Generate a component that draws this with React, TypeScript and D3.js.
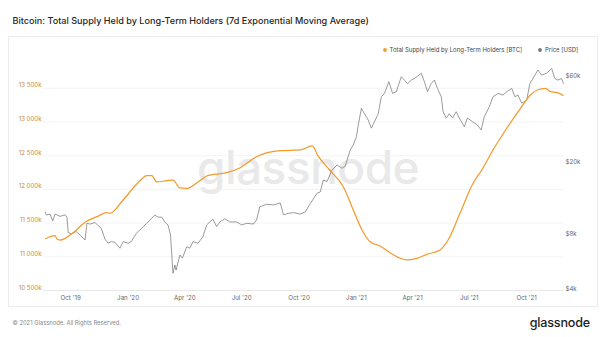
import React from "react";
import * as d3 from "d3";

const lthDates = [
  "2019-08-21", "2019-09-06", "2019-09-09", "2019-09-14", "2019-09-22", "2019-10-05", "2019-10-27",
  "2019-11-12", "2019-11-28", "2019-12-03", "2019-12-24", "2020-01-20", "2020-01-31", "2020-02-08",
  "2020-02-16", "2020-03-03", "2020-03-13", "2020-03-24", "2020-04-04", "2020-04-25", "2020-05-06",
  "2020-06-07", "2020-06-28", "2020-07-25", "2020-09-01", "2020-10-03", "2020-10-22", "2020-11-01",
  "2020-11-19", "2020-12-11", "2020-12-27", "2021-01-10", "2021-01-23", "2021-02-08", "2021-02-24",
  "2021-03-12", "2021-03-23", "2021-04-08", "2021-04-24", "2021-05-15", "2021-05-28", "2021-06-16",
  "2021-07-07", "2021-07-21", "2021-08-08", "2021-08-30", "2021-09-21", "2021-10-07", "2021-10-18",
  "2021-10-31", "2021-11-08", "2021-11-19", "2021-11-29",
];
const lthValues = [
  11264, 11313, 11264, 11249, 11274, 11358, 11531,
  11595, 11654, 11645, 11843, 12129, 12203, 12203,
  12110, 12129, 12139, 12021, 12016, 12129, 12199,
  12248, 12318, 12485, 12574, 12585, 12644, 12490,
  12288, 12040, 11694, 11398, 11224, 11160, 11061,
  10978, 10953, 10978, 11037, 11101, 11249, 11645,
  12091, 12288, 12585, 12907, 13203, 13401, 13475,
  13500, 13450, 13435, 13390,
];

const priceDates = [
  "2019-08-21", "2019-08-23", "2019-08-29", "2019-09-02", "2019-09-06", "2019-09-14", "2019-09-22",
  "2019-09-25", "2019-09-27", "2019-10-02", "2019-10-10", "2019-10-16", "2019-10-24", "2019-10-27",
  "2019-11-01", "2019-11-09", "2019-11-14", "2019-11-19", "2019-11-25", "2019-11-30", "2019-12-05",
  "2019-12-11", "2019-12-19", "2019-12-24", "2020-01-01", "2020-01-06", "2020-01-14", "2020-01-20",
  "2020-01-31", "2020-02-05", "2020-02-13", "2020-02-18", "2020-02-24", "2020-02-29", "2020-03-05",
  "2020-03-09", "2020-03-13", "2020-03-16", "2020-03-18", "2020-03-24", "2020-03-28", "2020-04-04",
  "2020-04-09", "2020-04-14", "2020-04-22", "2020-04-30", "2020-05-06", "2020-05-11", "2020-05-16",
  "2020-05-22", "2020-05-27", "2020-06-04", "2020-06-12", "2020-06-23", "2020-07-01", "2020-07-09",
  "2020-07-20", "2020-07-25", "2020-07-30", "2020-08-10", "2020-08-21", "2020-09-01", "2020-09-06",
  "2020-09-14", "2020-09-22", "2020-10-03", "2020-10-11", "2020-10-19", "2020-10-30", "2020-11-04",
  "2020-11-09", "2020-11-15", "2020-11-23", "2020-12-01", "2020-12-09", "2020-12-14", "2020-12-22",
  "2020-12-27", "2021-01-01", "2021-01-04", "2021-01-09", "2021-01-14", "2021-01-20", "2021-01-25",
  "2021-01-30", "2021-02-05", "2021-02-10", "2021-02-15", "2021-02-22", "2021-02-28", "2021-03-06",
  "2021-03-14", "2021-03-19", "2021-03-24", "2021-03-30", "2021-04-04", "2021-04-15", "2021-04-20",
  "2021-04-25", "2021-05-01", "2021-05-06", "2021-05-11", "2021-05-17", "2021-05-20", "2021-05-25",
  "2021-05-30", "2021-06-04", "2021-06-10", "2021-06-15", "2021-06-23", "2021-06-28", "2021-07-06",
  "2021-07-14", "2021-07-20", "2021-07-25", "2021-08-02", "2021-08-08", "2021-08-16", "2021-08-24",
  "2021-08-30", "2021-09-07", "2021-09-12", "2021-09-17", "2021-09-23", "2021-10-01", "2021-10-06",
  "2021-10-11", "2021-10-19", "2021-10-25", "2021-11-02", "2021-11-10", "2021-11-15", "2021-11-20",
  "2021-11-26", "2021-11-29",
];
const priceValues = [
  10820, 10380, 10500, 9620, 10500, 10200, 10400,
  10100, 8290, 8200, 8400, 8050, 7550, 9340,
  9250, 9430, 9060, 8760, 7630, 7250, 7400,
  7330, 6800, 7400, 7250, 7400, 8200, 8580,
  9340, 9730, 10380, 10100, 10100, 9460, 9150,
  8050, 4950, 5500, 5150, 6240, 6000, 6930,
  6800, 7400, 7250, 7880, 9150, 9500, 9830,
  8950, 9500, 9900, 9500, 9500, 9150, 9340,
  9250, 9750, 11500, 11900, 11800, 12100, 10400,
  10600, 10700, 10500, 10800, 12000, 13700, 13900,
  16200, 15900, 18400, 19600, 18800, 19300, 23700,
  25300, 28100, 32600, 40300, 37600, 34700, 31300,
  34000, 37600, 46700, 48700, 56500, 48700, 49800,
  60200, 57700, 55100, 57700, 58900, 62900, 56500,
  49800, 55300, 57700, 51900, 46700, 38600, 35600,
  37600, 35600, 38600, 35600, 31900, 35600, 34000,
  32600, 30600, 36200, 41100, 46700, 48700, 47700,
  49800, 51900, 46700, 47700, 43000, 44700, 55100,
  58900, 65600, 61500, 62900, 67000, 58900, 57700,
  58900, 55100,
];

const leftTicks = [10500, 11000, 11500, 12000, 12500, 13000, 13500];
const leftTickLabels = ["10 500k", "11 000k", "11 500k", "12 000k", "12 500k", "13 000k", "13 500k"];
const rightTicks = [4000, 8000, 20000, 60000];
const rightTickLabels = ["$4k", "$8k", "$20k", "$60k"];
const xTicks = ["2019-10-01", "2020-01-01", "2020-04-01", "2020-07-01", "2020-10-01", "2021-01-01", "2021-04-01", "2021-07-01", "2021-10-01"];
const xTickLabels = ["Oct '19", "Jan '20", "Apr '20", "Jul '20", "Oct '20", "Jan '21", "Apr '21", "Jul '21", "Oct '21"];

const title = "Bitcoin: Total Supply Held by Long-Term Holders (7d Exponential Moving Average)";
const legendLth = "Total Supply Held by Long-Term Holders [BTC]";
const legendPrice = "Price [USD]";

const ORANGE = "#f49a2c";
const GRAY = "#7a7a7a";
const FONT = "Inter, 'Noto Sans', sans-serif";

export default function App() {
  const W = 600, H = 337;
  const plotL = 43, plotR = 563;
  const x = d3.scaleUtc().domain([new Date("2019-10-01"), new Date("2021-10-01")]).range([70.7, 526.7]);
  const yL = d3.scaleLinear().domain([10500, 13500]).range([290.5, 88.3]);
  const yR = d3.scaleLog().domain([4000, 60000]).range([290, 77]);

  const lthData = lthDates.map((d, i) => ({ d: new Date(d), v: lthValues[i] }));
  const priceData = priceDates.map((d, i) => ({ d: new Date(d), v: priceValues[i] }));

  const lthLine = d3.line<{ d: Date; v: number }>().x(p => x(p.d)).y(p => yL(p.v)).curve(d3.curveMonotoneX);
  const priceLine = d3.line<{ d: Date; v: number }>().x(p => x(p.d)).y(p => yR(p.v)).curve(d3.curveLinear);

  return (
    <svg width={W} height={H} style={{ position: "absolute", left: 0, top: 0, background: "#fff" }} fontFamily={FONT}>
      <rect x={0} y={0} width={W} height={H} fill="#fff" />
      <text x={12.5} y={24} fontSize={9.1} fill="#262626" fontWeight={500}>{title}</text>
      {/* card */}
      <rect x={8.5} y={36.5} width={589} height={270} fill="none" stroke="#ececec" strokeWidth={1} />
      {/* legend */}
      <circle cx={385} cy={50} r={1.9} fill={ORANGE} />
      <text x={389.5} y={52.2} fontSize={6.0} fill="#444">{legendLth}</text>
      <circle cx={540} cy={50} r={1.9} fill="#777" />
      <text x={545} y={52.2} fontSize={6.0} fill="#444">{legendPrice}</text>
      {/* watermark */}
      <text x={308} y={184} fontSize={46} fill="#e9e9e9" textAnchor="middle" fontWeight={500} letterSpacing={-0.5}>glassnode</text>
      {/* gridlines */}
      {leftTicks.map(t => (
        <line key={t} x1={plotL} x2={plotR} y1={yL(t)} y2={yL(t)} stroke={t === 10500 ? "#e2e2e2" : "#f0f0f0"} strokeWidth={0.8} />
      ))}
      {/* left labels */}
      {leftTicks.map((t, i) => (
        <text key={t} x={41.5} y={yL(t) - 1} fontSize={6.1} fill="#c98a3a" textAnchor="end">{leftTickLabels[i]}</text>
      ))}
      {/* right labels */}
      {rightTicks.map((t, i) => (
        <text key={t} x={565.5} y={yR(t) + 0.5} fontSize={6.1} fill="#666">{rightTickLabels[i]}</text>
      ))}
      {/* x labels */}
      {xTicks.map((t, i) => (
        <text key={t} x={x(new Date(t))} y={299.8} fontSize={6.2} fill="#666" textAnchor="middle">{xTickLabels[i]}</text>
      ))}
      {/* lines */}
      <path d={priceLine(priceData) || ""} fill="none" stroke={GRAY} strokeWidth={0.75} />
      <path d={lthLine(lthData) || ""} fill="none" stroke={ORANGE} strokeWidth={1.25} />
      {/* footer */}
      <text x={12.5} y={324.5} fontSize={5.8} fill="#888">© 2021 Glassnode. All Rights Reserved.</text>
      <text x={590} y={327} fontSize={12.6} fill="#1e1e1e" textAnchor="end" fontWeight={500} letterSpacing={-0.2}>glassnode</text>
    </svg>
  );
}
